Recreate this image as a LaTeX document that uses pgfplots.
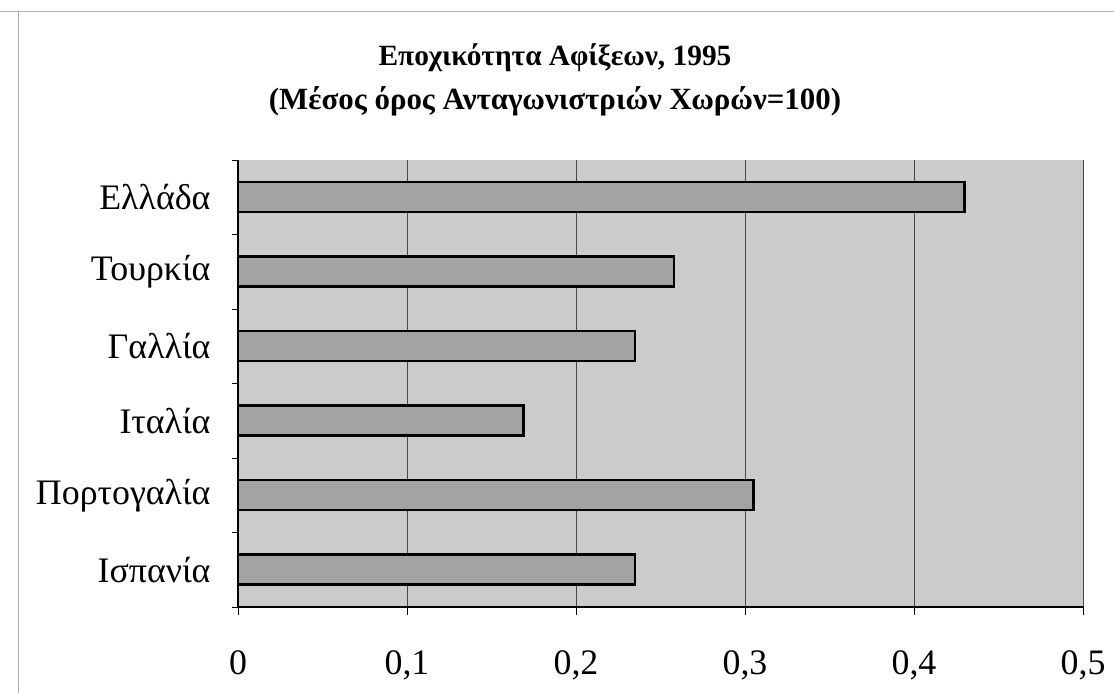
\documentclass[border=0pt]{standalone}
\usepackage{fontspec}
\setmainfont{Liberation Serif}
\usepackage{pgfplots}
\pgfplotsset{compat=1.18}
\definecolor{plotbg}{RGB}{203,203,203}
\definecolor{barfill}{RGB}{163,163,163}
\definecolor{gridc}{RGB}{70,70,70}
\begin{document}
\begin{tikzpicture}[x=1bp,y=1bp]
\useasboundingbox (0,0) rectangle (1114,693);
\draw[gray!60, line width=1bp] (0,681) -- (1114,681);
\draw[gray!60, line width=1bp] (18,681) -- (18,0);
\node[font=\bfseries\fontsize{29.5}{34}\selectfont] at (555,635) {Εποχικότητα Αφίξεων, 1995};
\node[font=\bfseries\fontsize{31}{36}\selectfont] at (555,592) {(Μέσος όρος Ανταγωνιστριών Χωρών=100)};
\begin{axis}[
  at={(238bp,86bp)}, anchor=south west,
  scale only axis, width=845bp, height=447bp,
  xbar, bar width=30bp, bar shift=0pt,
  xmin=0, xmax=0.5, ymin=-0.5, ymax=5.5,
  axis x line*=bottom, axis y line*=left,
  axis line style={-, black, line width=1.2bp},
  axis background/.style={fill=plotbg},
  xtick={0,0.1,0.2,0.3,0.4,0.5},
  xticklabels={0,{0,1},{0,2},{0,3},{0,4},{0,5}},
  ytick={0,1,2,3,4,5},
  yticklabels={Ισπανία,Πορτογαλία,Ιταλία,Γαλλία,Τουρκία,Ελλάδα},
  minor ytick={-0.5,0.5,1.5,2.5,3.5,4.5,5.5},
  every major y tick/.append style={draw=none},
  tick align=outside,
  major tick length=8bp, minor tick length=6bp,
  tick style={black, line width=0.8bp},
  xmajorgrids, major x grid style={gridc, line width=1bp},
  ticklabel style={font=\fontsize{36}{40}\selectfont},
  xticklabel style={yshift=-32bp},
  yticklabel style={xshift=-16bp},
  clip=false,
]
\addplot[fill=barfill, draw=black, line width=2.5bp] coordinates {
  (0.235,0) (0.305,1) (0.169,2) (0.235,3) (0.258,4) (0.430,5)
};
\end{axis}
\end{tikzpicture}
\end{document}
